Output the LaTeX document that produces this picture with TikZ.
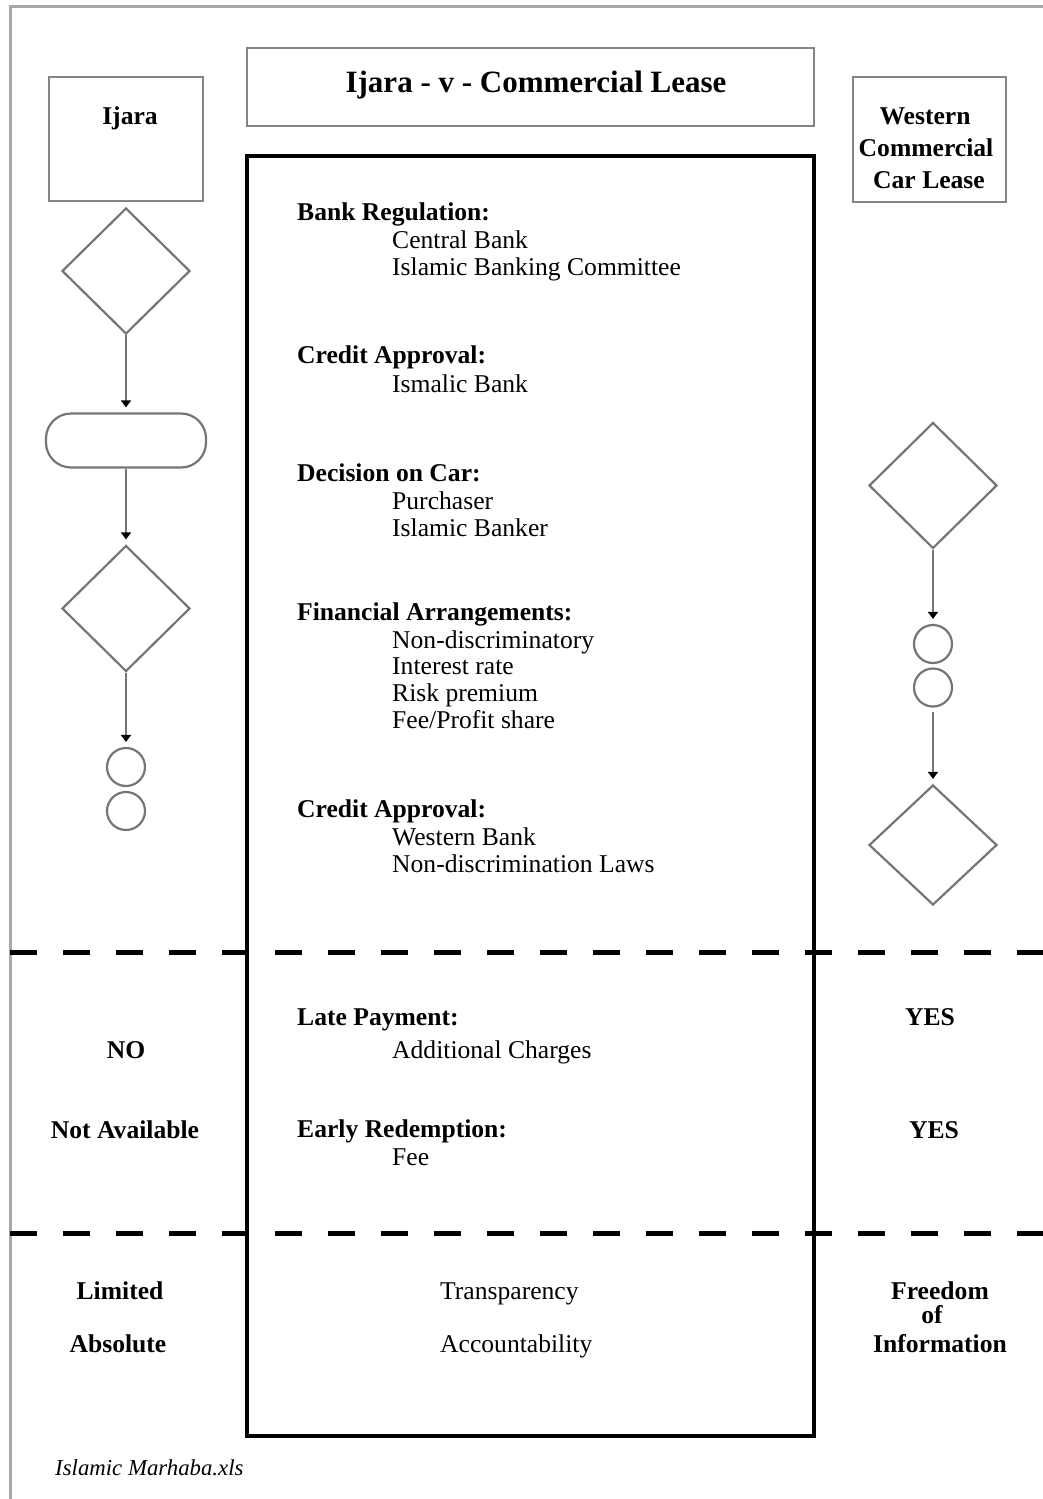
\documentclass[tikz,border=0pt]{standalone}
\usepackage{fontspec}
\setmainfont{Liberation Serif}
\usetikzlibrary{arrows.meta,shapes.geometric}
\definecolor{pagegray}{HTML}{A8A8A8}
\definecolor{boxgray}{HTML}{858585}
\definecolor{chartgray}{HTML}{757575}

\tikzset{
  box/.style={draw=boxgray,line width=2.6pt,inner sep=0pt},
  deci/.style={diamond,draw=chartgray,line width=2.2pt,minimum width=128pt,
    minimum height=126pt,inner sep=0pt},
  term/.style={draw=chartgray,line width=2.2pt,rounded corners=25pt,
    minimum width=160pt,minimum height=54pt,inner sep=0pt},
  conn/.style={circle,draw=chartgray,line width=2.2pt,minimum size=38pt,inner sep=0pt},
  flow/.style={draw=chartgray,line width=2pt,shorten >=5pt,
    -{Triangle[length=7pt,width=10pt,color=black]}},
  sep/.style={draw=black,line width=5pt,dash pattern=on 27pt off 26pt},
  item/.style={anchor=base west,inner sep=0pt,font=\fontsize{25.6}{27}\selectfont},
  head/.style={anchor=base west,inner sep=0pt,font=\bfseries\fontsize{25.6}{27}\selectfont},
  side/.style={anchor=base,inner sep=0pt,font=\bfseries\fontsize{25.6}{27}\selectfont}
}

\begin{document}
\begin{tikzpicture}[x=1pt,y=-1pt]
  \useasboundingbox (0,0) rectangle (1043,1499);

  % page frame
  \draw[pagegray,line width=3pt] (1043,6) -- (10,6) -- (10,1499);

  % header boxes
  \node[box,minimum width=154pt,minimum height=124pt] (ijara) at (126,139) {};
  \node[box,minimum width=567pt,minimum height=78pt] (title) at (530.5,87) {};
  \node[box,minimum width=153pt,minimum height=125pt] (west) at (929.5,139.5) {};
  \node[side] (ijaralbl) at (130,124) {Ijara};
  \node[side,font=\bfseries\fontsize{31}{33}\selectfont] (titlelbl) at (536,92) {Ijara - v - Commercial Lease};
  \node[side] (west1) at (925,124) {Western};
  \node[side] (west2) at (926,156) {Commercial};
  \node[side] (west3) at (929,188) {Car Lease};

  % comparison column
  \node[draw=black,line width=4pt,minimum width=567pt,minimum height=1280pt,
    inner sep=0pt] (main) at (530.5,796) {};

  % Ijara flow
  \node[deci] (ld1) at (126,271) {};
  \node[term] (lt) at (126,440.5) {};
  \node[deci] (ld2) at (126,608.5) {};
  \node[conn] (lc1) at (126,767) {};
  \node[conn] (lc2) at (126,811) {};
  \draw[flow] (ld1) -- (lt);
  \draw[flow] (lt) -- (ld2);
  \draw[flow] (ld2) -- (lc1);

  % western lease flow
  \node[deci] (rd1) at (933,485.5) {};
  \node[conn] (rc1) at (933,644) {};
  \node[conn] (rc2) at (933,687.5) {};
  \node[deci,minimum height=120pt] (rd2) at (933,845) {};
  \draw[flow] (rd1) -- (rc1);
  \draw[flow,shorten <=4pt] (rc2) -- (rd2);

  % section breaks
  \draw[sep] (10,952) -- (1043,952);
  \draw[sep] (10,1233) -- (1043,1233);

  % headings and items
  \foreach \yy/\txt [count=\i] in {220/Bank Regulation:,363/Credit Approval:,
      481/Decision on Car:,620/Financial Arrangements:,817/Credit Approval:,
      1025/Late Payment:,1137/Early Redemption:}
    \node[head] (head\i) at (297,\yy) {\txt};
  \foreach \yy/\txt [count=\i] in {248/Central Bank,275/Islamic Banking Committee,
      392/Ismalic Bank,509/Purchaser,536/Islamic Banker,648/Non-discriminatory,
      674/Interest rate,701/Risk premium,728/{Fee/Profit share},845/Western Bank,
      872/Non-discrimination Laws,1058/Additional Charges,1165/Fee}
    \node[item] (item\i) at (392,\yy) {\txt};
  \node[item] (transp) at (440,1299) {Transparency};
  \node[item] (account) at (440,1352) {Accountability};

  % side answers
  \node[side] (no) at (126,1058) {NO};
  \node[side] (notav) at (125,1138) {Not Available};
  \node[side] (yes1) at (930,1025) {YES};
  \node[side] (yes2) at (934,1138) {YES};
  \node[side] (limited) at (120,1299) {Limited};
  \node[side] (absolute) at (118,1352) {Absolute};
  \node[side] (free1) at (940,1299) {Freedom};
  \node[side] (free2) at (932,1323) {of};
  \node[side] (free3) at (940,1352) {Information};

  % source
  \node[item,font=\itshape\fontsize{22.8}{24}\selectfont] (source) at (55,1475) {Islamic Marhaba.xls};
\end{tikzpicture}
\end{document}
